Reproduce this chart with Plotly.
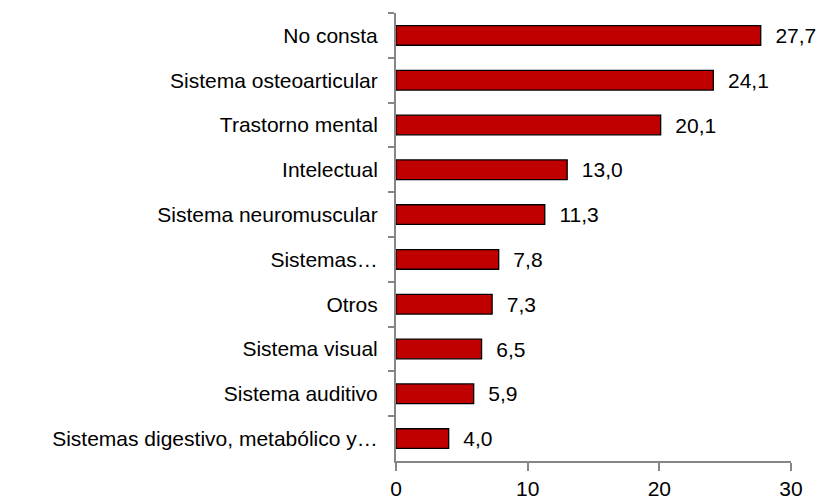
import plotly.graph_objects as go

categories = ["No consta", "Sistema osteoarticular", "Trastorno mental", "Intelectual",
              "Sistema neuromuscular", "Sistemas…", "Otros", "Sistema visual",
              "Sistema auditivo", "Sistemas digestivo, metabólico y…"]
values = [27.7, 24.1, 20.1, 13.0, 11.3, 7.8, 7.3, 6.5, 5.9, 4.0]
x_ticks = [0, 10, 20, 30]

FONT = "Liberation Sans, Arial, sans-serif"
FS = 21

fig = go.Figure(go.Bar(
    x=values, y=categories, orientation="h",
    marker=dict(color="#C00000", line=dict(color="black", width=1.3)),
    text=values, texttemplate="  %{x:.1f}", textposition="outside",
    textfont=dict(family=FONT, size=FS, color="black"),
    constraintext="none", cliponaxis=False,
))

fig.update_layout(
    width=820, height=491,
    margin=dict(l=388, r=37, t=5, b=38, autoexpand=False),
    paper_bgcolor="white", plot_bgcolor="white",
    separators=",.",
    bargap=0.56,
    showlegend=False,
    font=dict(family=FONT, size=FS, color="black"),
)
fig.update_xaxes(
    range=[0, 30], tickvals=x_ticks, showgrid=False, zeroline=False,
    showline=True, linecolor="#868686", linewidth=2,
    ticks="outside", ticklen=8, tickcolor="#868686", tickwidth=2,
    tickfont=dict(family=FONT, size=FS, color="black"),
)
fig.update_yaxes(
    autorange="reversed", showgrid=False, zeroline=False,
    showline=True, linecolor="#868686", linewidth=2,
    ticks="outside", ticklen=6, tickcolor="#868686", tickwidth=2,
    tickson="boundaries", ticklabelstandoff=12,
    tickfont=dict(family=FONT, size=FS, color="black"),
)

fig.write_html("out.html")
